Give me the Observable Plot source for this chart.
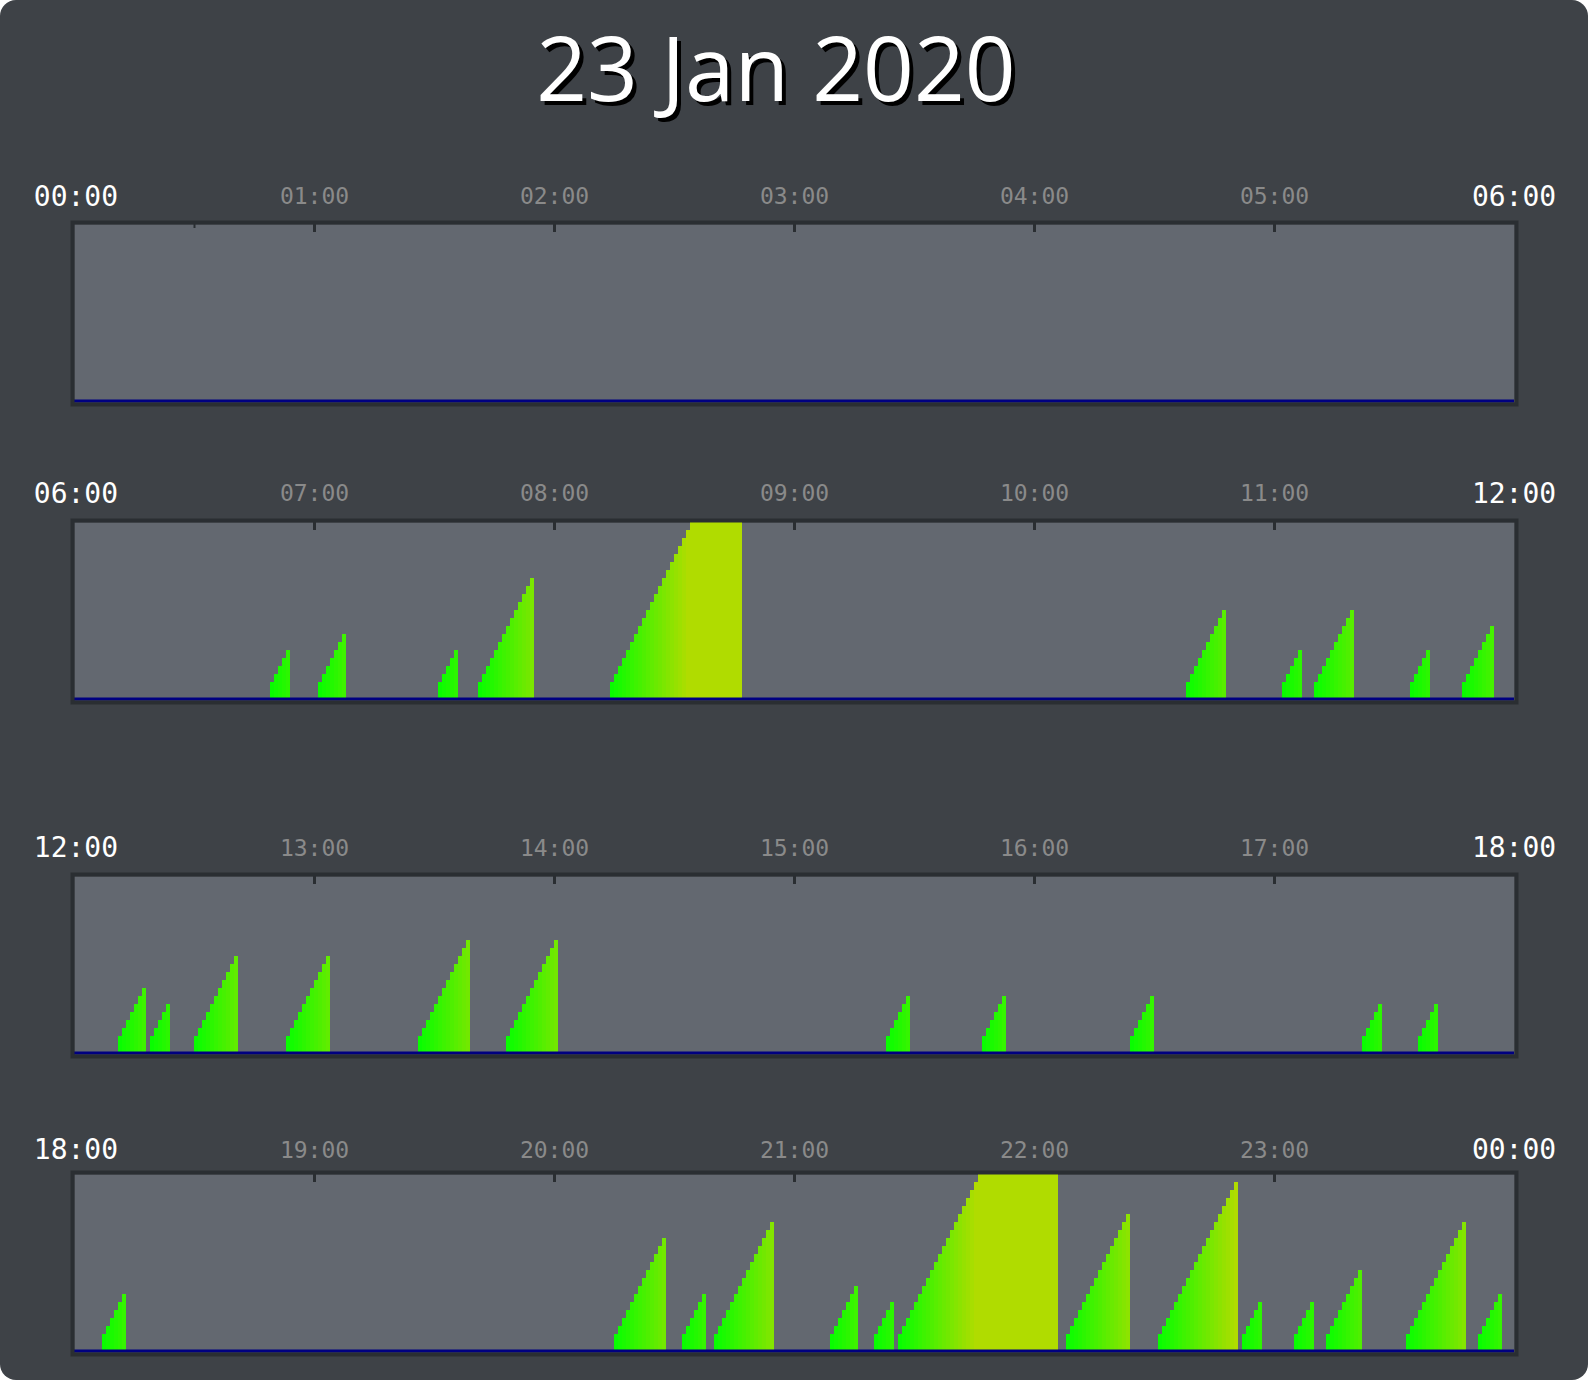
<!DOCTYPE html>
<html><head><meta charset="utf-8">
<script src="https://cdn.jsdelivr.net/npm/d3@7"></script>
<script src="https://cdn.jsdelivr.net/npm/@observablehq/plot@0.6"></script>
<style>
html,body{margin:0;padding:0;background:#fff;}
#card{position:relative;width:1588px;height:1380px;background:#3e4247;border-radius:16px;overflow:hidden;}
#title{position:absolute;left:0;width:1552px;top:22px;text-align:center;font-family:"Open Sans";font-size:89px;line-height:90px;color:#fff;text-shadow:4px 4px 0 #000;white-space:nowrap;}
.panel{position:absolute;left:0;}
.panel svg{display:block;}
</style></head><body>
<div id="card"><div id="title"></div></div>
<script>
// ---- data ----
const title = "23 Jan 2020";
const panelStarts = ["00:00", "06:00", "12:00", "18:00"];
const hourOffsets = [60, 120, 180, 240, 300];
const minorTicks = [["00:30"], [], [], []];
// sessions: start time and length in minutes (bar = minutes elapsed in session)
const sessionStart = [
  "06:49", "07:01", "07:31", "07:41", "08:14", "10:38", "11:02", "11:10", "11:34", "11:47",
  "12:11", "12:19", "12:30", "12:53", "13:26", "13:48", "15:23", "15:47", "16:24", "17:22", "17:36",
  "18:07", "20:15", "20:32", "20:40", "21:09", "21:20", "21:26", "22:08", "22:31", "22:52", "23:05", "23:13", "23:33", "23:51"
];
const sessionMinutes = [
  5, 7, 5, 14, 33, 10, 5, 10, 5, 8,
  7, 5, 11, 11, 13, 13, 6, 6, 6, 5, 5,
  6, 13, 6, 15, 7, 5, 40, 16, 20, 5, 5, 9, 15, 6
];

// ---- layout ----
const interiorTops = [224, 522, 876, 1174];
const labelOffsets = [-20.5, -21.5, -21, -17];
const innerH = 178, mTop = 50, mBottom = 8;
const yMin = -1.2, yMax = 21;

document.getElementById("title").textContent = title;

const toMin = s => { const [h, m] = s.split(":").map(Number); return h * 60 + m; };
const fmt = m => { const h = Math.floor(m / 60) % 24, mm = m % 60; return String(h).padStart(2, "0") + ":" + String(mm).padStart(2, "0"); };

const card = document.getElementById("card");
const frameColor = "#2a2e32";

panelStarts.forEach((ps, i) => {
  const p0 = toMin(ps), p1 = p0 + 360;
  const rows = [];
  sessionStart.forEach((s, j) => {
    const t0 = toMin(s);
    if (t0 >= p0 && t0 < p1) {
      for (let k = 0; k < sessionMinutes[j]; k++) rows.push({x1: t0 - p0 + k, x2: t0 - p0 + k + 1, v: k + 1});
    }
  });
  const off = labelOffsets[i];
  const minors = minorTicks[i].map(t => toMin(t) - p0);
  const chart = Plot.plot({
    width: 1588,
    height: mTop + innerH + mBottom,
    marginLeft: 74, marginRight: 74, marginTop: mTop, marginBottom: mBottom,
    style: {background: "transparent", color: "#fff", fontFamily: "DejaVu Sans Mono", overflow: "visible"},
    x: {domain: [0, 360], axis: null},
    y: {domain: [yMin, yMax], axis: null, clamp: true},
    color: {type: "linear", domain: [0, 20], range: ["#00ff00", "#b0dc00"], interpolate: "rgb", clamp: true},
    marks: [
      Plot.frame({fill: "#636870"}),
      Plot.ruleX(hourOffsets, {x: d => d, stroke: frameColor, strokeWidth: 3, insetBottom: innerH - 8}),
      Plot.ruleX(minors, {x: d => d, stroke: frameColor, strokeWidth: 2, insetBottom: innerH - 4}),
      Plot.rect(rows, {x1: "x1", x2: "x2", y1: () => yMin, y2: "v", fill: "v", shapeRendering: "crispEdges"}),
      Plot.ruleY([yMin], {stroke: "#000080", strokeWidth: 3, dy: -1.5}),
      Plot.frame({stroke: frameColor, strokeWidth: 4, inset: -2}),
      Plot.text(hourOffsets, {x: d => d, text: d => fmt(p0 + d), frameAnchor: "top", lineAnchor: "bottom", dy: off, fontFamily: "DejaVu Sans Mono", fontSize: 23, fill: "#8a8a8a"}),
      Plot.text([0], {x: d => d, text: () => fmt(p0), frameAnchor: "top", lineAnchor: "bottom", textAnchor: "start", dx: -40.7, dy: off + 1.5, fontFamily: "DejaVu Sans Mono", fontSize: 28, fill: "#fff"}),
      Plot.text([360], {x: d => d, text: () => fmt(p1), frameAnchor: "top", lineAnchor: "bottom", textAnchor: "end", dx: 41.7, dy: off + 1.5, fontFamily: "DejaVu Sans Mono", fontSize: 28, fill: "#fff"})
    ]
  });
  const div = document.createElement("div");
  div.className = "panel";
  div.style.top = (interiorTops[i] - mTop) + "px";
  div.appendChild(chart);
  card.appendChild(div);
});
</script>
</body></html>
